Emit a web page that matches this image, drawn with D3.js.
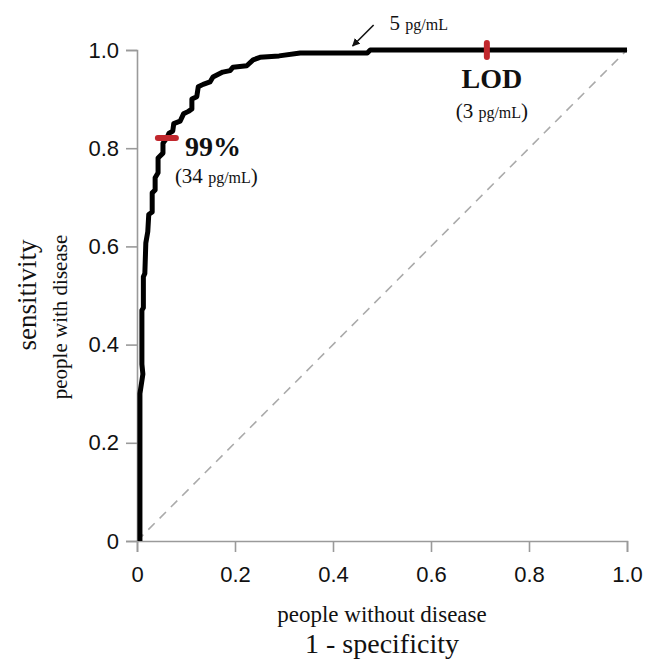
<!DOCTYPE html>
<html>
<head>
<meta charset="utf-8">
<script src="https://cdn.jsdelivr.net/npm/d3@7"></script>
<style>
  body { margin: 0; background: #fff; }
  .axis path, .axis line { stroke: #9a9a9a; stroke-width: 1.6; }
  .axis text { font-family: "Liberation Sans", Arial, sans-serif; font-size: 22px; fill: #111; }
  .serif { font-family: "Liberation Serif", "Times New Roman", serif; fill: #111; }
</style>
</head>
<body>
<div class="chart"></div>
<script>
// ROC curve: 1 - specificity / sensitivity
var fpr = [0.006, 0.006, 0.012, 0.010, 0.010, 0.013, 0.013, 0.016, 0.018, 0.022, 0.024, 0.031,
  0.031, 0.037, 0.037, 0.043, 0.043, 0.053, 0.053, 0.061, 0.065, 0.073, 0.075, 0.088,
  0.095, 0.105, 0.112, 0.112, 0.122, 0.125, 0.135, 0.149, 0.155, 0.165, 0.175, 0.190,
  0.196, 0.224, 0.237, 0.251, 0.290, 0.333, 0.470, 0.476, 1.0];
var tpr = [0.000, 0.300, 0.340, 0.360, 0.470, 0.475, 0.538, 0.545, 0.607, 0.630, 0.665, 0.670,
  0.709, 0.715, 0.740, 0.750, 0.780, 0.790, 0.810, 0.821, 0.830, 0.835, 0.850, 0.855,
  0.870, 0.875, 0.880, 0.900, 0.905, 0.925, 0.930, 0.935, 0.945, 0.950, 0.955, 0.958,
  0.965, 0.968, 0.980, 0.985, 0.988, 0.994, 0.994, 1.000, 1.000];

var tickValues = [0, 0.2, 0.4, 0.6, 0.8, 1.0];
var tickLabels = ["0", "0.2", "0.4", "0.6", "0.8", "1.0"];

// marked cut-offs on the curve
var cutNames = ["99%", "LOD"];
var cutConc = ["34", "3"];
var cutFpr = [0.061, 0.714];
var cutTpr = [0.821, 1.0];

// arrow note
var noteConc = "5";
var noteFpr = 0.44;
var noteTpr = 0.994;

var svgWidth = 659;
var svgHeight = 662;
var margin = { top: 50, right: 32, bottom: 121, left: 137 };
var width = svgWidth - margin.left - margin.right;
var height = svgHeight - margin.top - margin.bottom;

var svg = d3.select(".chart").append("svg")
  .attr("width", svgWidth)
  .attr("height", svgHeight);

svg.append("defs").append("marker")
  .attr("id", "arrow")
  .attr("viewBox", "0 0 10 10")
  .attr("refX", 9).attr("refY", 5)
  .attr("markerWidth", 5).attr("markerHeight", 5)
  .attr("orient", "auto")
  .append("path")
  .attr("d", "M0,0 L10,5 L0,10 z")
  .attr("fill", "#111");

var chartGroup = svg.append("g")
  .attr("transform", `translate(${margin.left}, ${margin.top})`);

var x = d3.scaleLinear().domain([0, 1]).range([0, width]);
var y = d3.scaleLinear().domain([0, 1]).range([height, 0]);

// axes
chartGroup.append("g")
  .attr("class", "axis")
  .attr("transform", `translate(0, ${height})`)
  .call(d3.axisBottom(x).tickValues(tickValues).tickSize(11).tickPadding(14)
    .tickFormat((d, i) => tickLabels[i]));

chartGroup.append("g")
  .attr("class", "axis")
  .call(d3.axisLeft(y).tickValues(tickValues).tickSize(11).tickPadding(7)
    .tickFormat((d, i) => tickLabels[i]));

// chance line
chartGroup.append("line")
  .attr("x1", x(0)).attr("y1", y(0))
  .attr("x2", x(1)).attr("y2", y(1))
  .attr("stroke", "#aaa")
  .attr("stroke-width", 1.6)
  .attr("stroke-dasharray", "9,7");

// ROC curve
var rocData = fpr.map((d, i) => [d, tpr[i]]);
var line = d3.line().x(d => x(d[0])).y(d => y(d[1]));

chartGroup.append("path")
  .datum(rocData)
  .attr("d", line)
  .attr("fill", "none")
  .attr("stroke", "#000")
  .attr("stroke-width", 5)
  .attr("stroke-linejoin", "round");

// cut-off markers: 99% is horizontal, LOD vertical
chartGroup.append("line")
  .attr("x1", x(cutFpr[0]) - 9).attr("x2", x(cutFpr[0]) + 9)
  .attr("y1", y(cutTpr[0])).attr("y2", y(cutTpr[0]))
  .attr("stroke", "#c1272d").attr("stroke-width", 6).attr("stroke-linecap", "round");

chartGroup.append("line")
  .attr("x1", x(cutFpr[1])).attr("x2", x(cutFpr[1]))
  .attr("y1", y(cutTpr[1]) - 7).attr("y2", y(cutTpr[1]) + 7)
  .attr("stroke", "#c1272d").attr("stroke-width", 6).attr("stroke-linecap", "round");

function concLabel(g, conc, bigSize, smallSize) {
  g.append("tspan").style("font-size", bigSize + "px").text("(" + conc + " ");
  g.append("tspan").style("font-size", smallSize + "px").text("pg/mL");
  g.append("tspan").style("font-size", bigSize + "px").text(")");
}

// 99% label
chartGroup.append("text")
  .attr("class", "serif")
  .attr("x", x(cutFpr[0]) + 18)
  .attr("y", y(cutTpr[0]) + 18)
  .style("font-size", "28px")
  .style("font-weight", "bold")
  .text(cutNames[0]);

concLabel(chartGroup.append("text")
  .attr("class", "serif")
  .attr("x", x(cutFpr[0]) + 8)
  .attr("y", y(cutTpr[0]) + 45), cutConc[0], 21, 16);

// LOD label
chartGroup.append("text")
  .attr("class", "serif")
  .attr("x", x(cutFpr[1]) + 5)
  .attr("y", y(cutTpr[1]) + 38)
  .attr("text-anchor", "middle")
  .style("font-size", "28px")
  .style("font-weight", "bold")
  .text(cutNames[1]);

concLabel(chartGroup.append("text")
  .attr("class", "serif")
  .attr("x", x(cutFpr[1]) + 5)
  .attr("y", y(cutTpr[1]) + 68)
  .attr("text-anchor", "middle"), cutConc[1], 21, 16);

// 5 pg/mL arrow note
chartGroup.append("line")
  .attr("x1", x(noteFpr) + 21).attr("y1", y(noteTpr) - 28)
  .attr("x2", x(noteFpr)).attr("y2", y(noteTpr) - 7)
  .attr("stroke", "#111").attr("stroke-width", 1.6)
  .attr("marker-end", "url(#arrow)");

var note = chartGroup.append("text")
  .attr("class", "serif")
  .attr("x", x(noteFpr) + 37)
  .attr("y", y(noteTpr) - 23);
note.append("tspan").style("font-size", "21px").text(noteConc + " ");
note.append("tspan").style("font-size", "16px").text("pg/mL");

// axis titles
svg.append("text")
  .attr("class", "serif")
  .attr("x", margin.left + width / 2)
  .attr("y", 622)
  .attr("text-anchor", "middle")
  .style("font-size", "23px")
  .text("people without disease");

svg.append("text")
  .attr("class", "serif")
  .attr("x", margin.left + width / 2)
  .attr("y", 653)
  .attr("text-anchor", "middle")
  .style("font-size", "28px")
  .text("1 - specificity");

svg.append("text")
  .attr("class", "serif")
  .attr("transform", "translate(36, 295) rotate(-90)")
  .attr("text-anchor", "middle")
  .style("font-size", "27px")
  .text("sensitivity");

svg.append("text")
  .attr("class", "serif")
  .attr("transform", "translate(67, 317) rotate(-90)")
  .attr("text-anchor", "middle")
  .style("font-size", "21px")
  .text("people with disease");
</script>
</body>
</html>
